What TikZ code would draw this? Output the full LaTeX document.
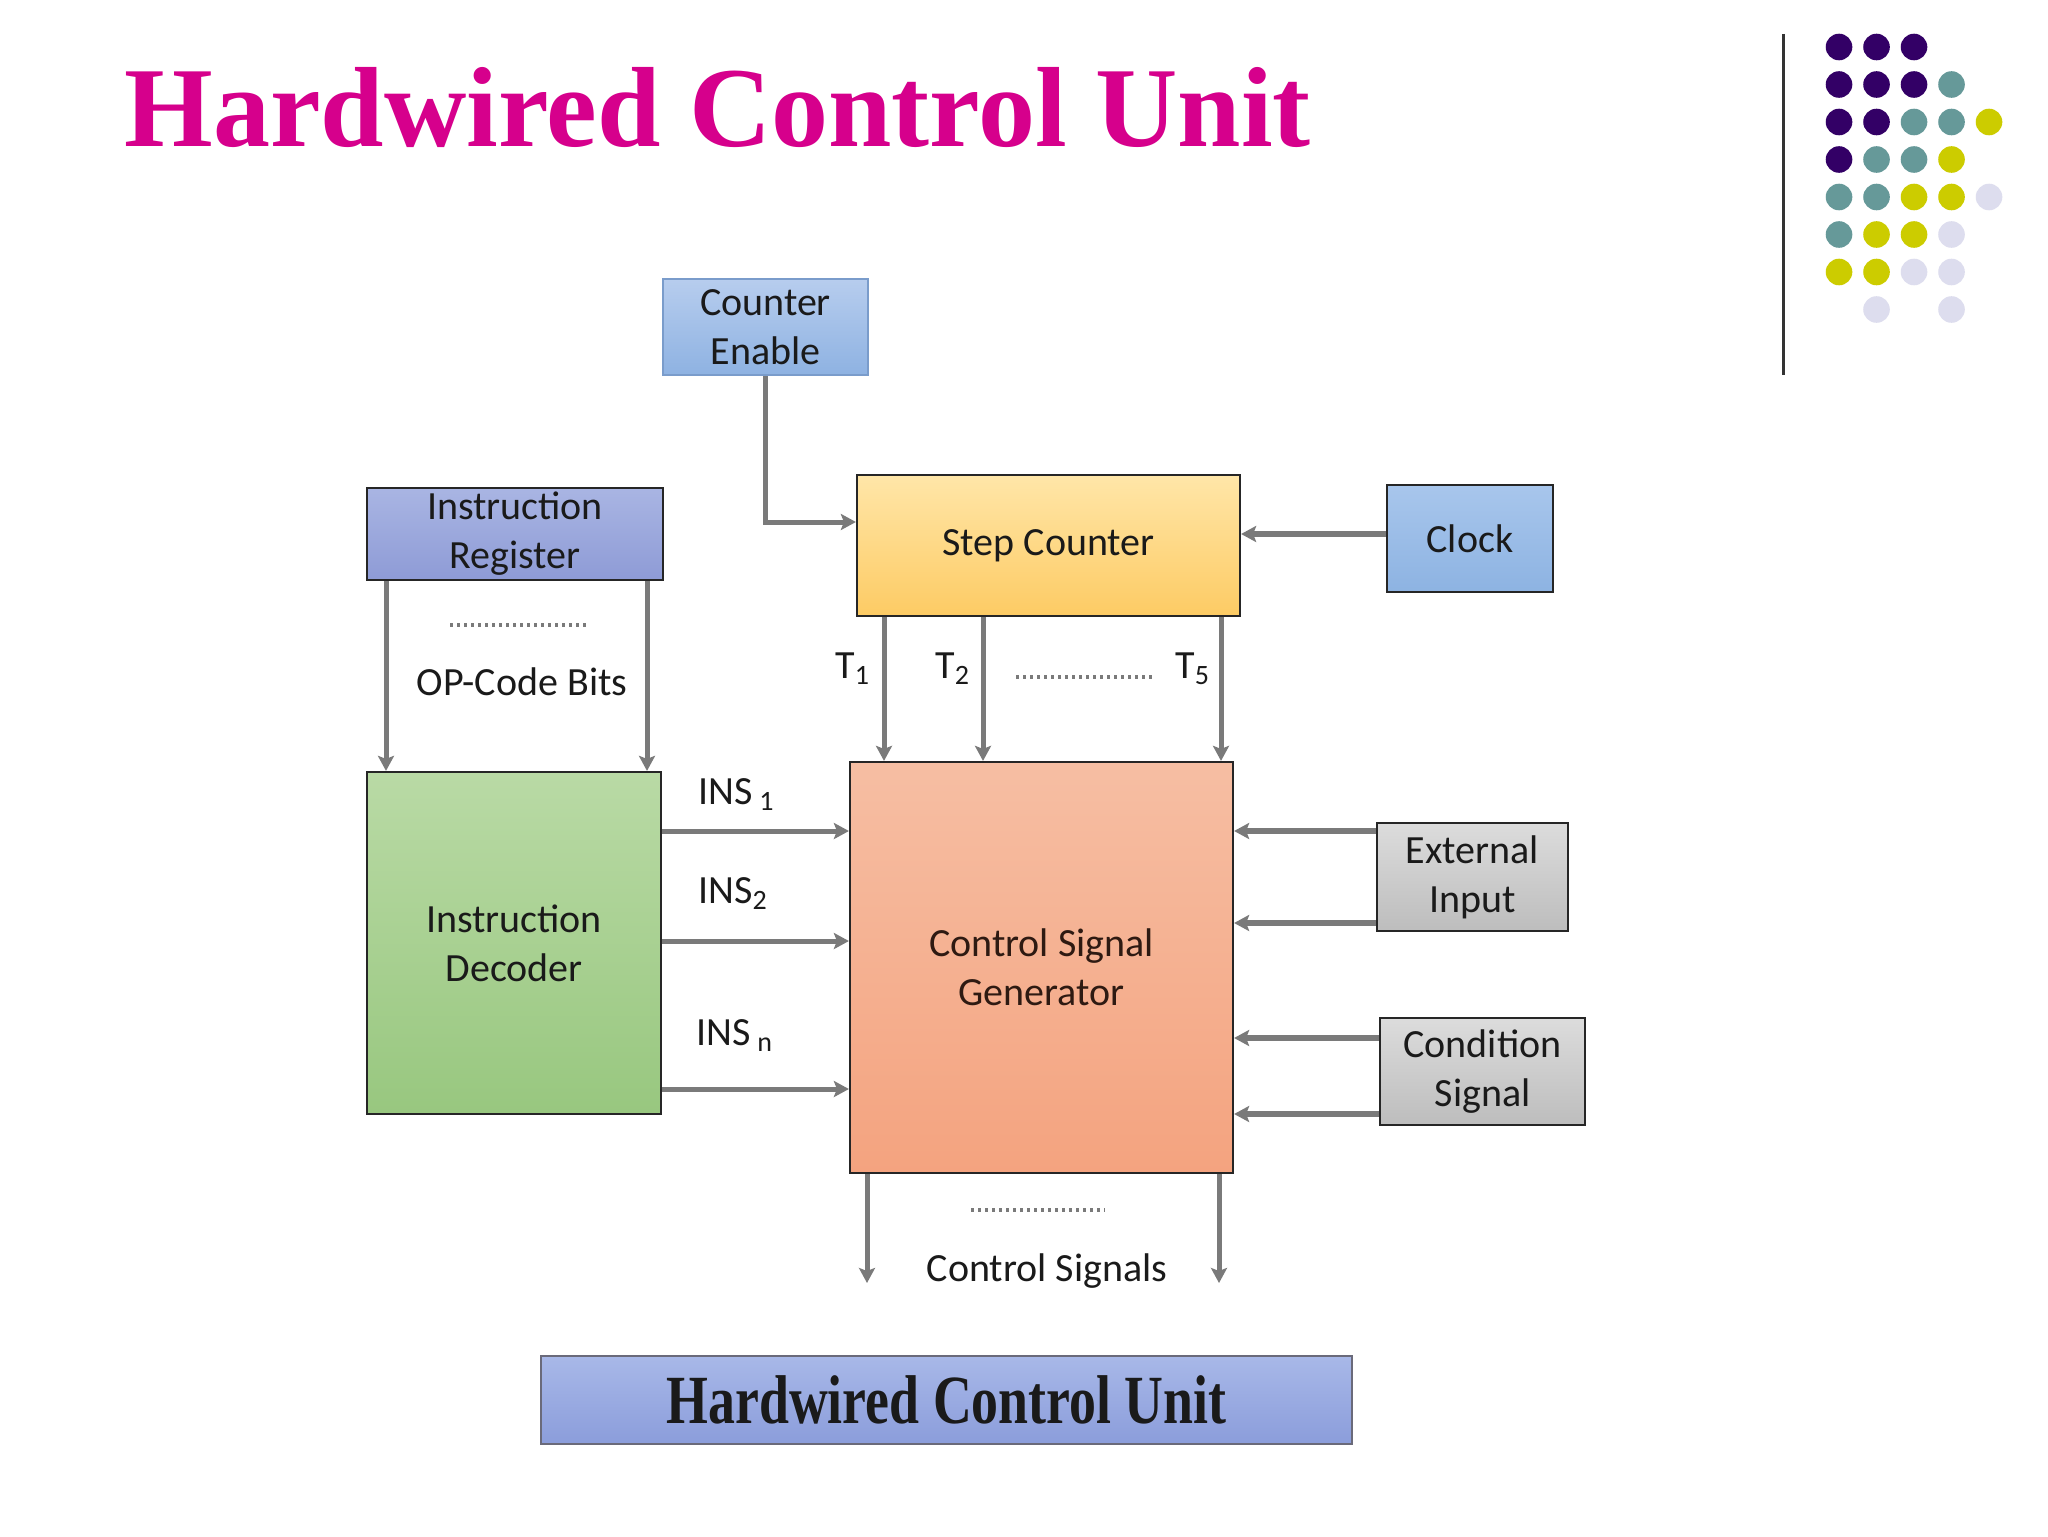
\documentclass[tikz,border=0pt]{standalone}
\usepackage{fontspec}
\setmainfont{Carlito}
\newfontfamily\serifbold{Liberation Serif}[BoldFont={Liberation Serif Bold}]
\usetikzlibrary{arrows.meta}
\definecolor{titlepink}{HTML}{D6008C}
\definecolor{wirec}{HTML}{7A7A7A}
\definecolor{boxline}{HTML}{262626}
\definecolor{textc}{HTML}{1A1A1A}
\definecolor{dotP}{HTML}{330066}
\definecolor{dotT}{HTML}{669999}
\definecolor{dotY}{HTML}{CCCC00}
\definecolor{dotL}{HTML}{DDDDEE}
\definecolor{ceLine}{HTML}{7A9CCB}
\definecolor{ceTop}{HTML}{B7CDEE}
\definecolor{ceBot}{HTML}{8EB2E2}
\definecolor{scTop}{HTML}{FFE6A8}
\definecolor{scBot}{HTML}{FDCB64}
\definecolor{clkTop}{HTML}{A8C6EC}
\definecolor{clkBot}{HTML}{8DB3E2}
\definecolor{irTop}{HTML}{A9B5E3}
\definecolor{irBot}{HTML}{8E9BD6}
\definecolor{idTop}{HTML}{B9DAA5}
\definecolor{idBot}{HTML}{98C77F}
\definecolor{csgTop}{HTML}{F6BEA3}
\definecolor{csgBot}{HTML}{F4A37F}
\definecolor{csgText}{HTML}{2E1A12}
\definecolor{grayTop}{HTML}{DCDCDC}
\definecolor{grayBot}{HTML}{BDBDBD}
\definecolor{banTop}{HTML}{A8B8E8}
\definecolor{banBot}{HTML}{8B9DDB}
\definecolor{banLine}{HTML}{6A6A7A}
\definecolor{sepLine}{HTML}{333333}
\tikzset{
  box/.style={draw=boxline, line width=1.1pt, inner sep=0pt, align=center,
    font=\fontsize{20}{24.5}\selectfont, text=textc},
  cebox/.style={box, draw=ceLine, top color=ceTop, bottom color=ceBot},
  scbox/.style={box, top color=scTop, bottom color=scBot},
  clkbox/.style={box, top color=clkTop, bottom color=clkBot},
  irbox/.style={box, top color=irTop, bottom color=irBot},
  idbox/.style={box, top color=idTop, bottom color=idBot},
  csgbox/.style={box, top color=csgTop, bottom color=csgBot, text=csgText},
  graybox/.style={box, top color=grayTop, bottom color=grayBot},
  wire/.style={draw=wirec, line width=2.5pt, -{Stealth[length=7.5pt,width=8pt,inset=1.5pt]}},
  thickwire/.style={wire, line width=3pt},
  lbl/.style={inner sep=0pt, font=\fontsize{20}{24}\selectfont, text=textc},
  dotline/.style={draw=wirec, line width=1.8pt, dash pattern=on 1.4pt off 2.1pt},
}
\begin{document}
\begin{tikzpicture}[x=0.5pt,y=-0.5pt]
\useasboundingbox[fill=white] (0,0) rectangle (2048,1536);

% title
\node[anchor=base west, inner sep=0pt, text=titlepink, font=\serifbold\bfseries\fontsize{57}{60}\selectfont] (title) at (124,147) {Hardwired Control Unit};

% separator and dots
\draw[draw=sepLine, line width=1.5pt] (1783,34) -- (1783,375);
\foreach \r/\c/\col in {0/0/dotP,0/1/dotP,0/2/dotP,
  1/0/dotP,1/1/dotP,1/2/dotP,1/3/dotT,
  2/0/dotP,2/1/dotP,2/2/dotT,2/3/dotT,2/4/dotY,
  3/0/dotP,3/1/dotT,3/2/dotT,3/3/dotY,
  4/0/dotT,4/1/dotT,4/2/dotY,4/3/dotY,4/4/dotL,
  5/0/dotT,5/1/dotY,5/2/dotY,5/3/dotL,
  6/0/dotY,6/1/dotY,6/2/dotL,6/3/dotL,
  7/1/dotL,7/3/dotL}
  \fill[\col] ({1839+37.5*\c},{47+37.5*\r}) circle[radius=6.65pt];

% boxes
\node[cebox, minimum width=102.5pt, minimum height=48pt] (ce) at (765.5,327) {Counter\\Enable};
\node[scbox, minimum width=191.5pt, minimum height=70.5pt] (sc) at (1048.5,545.5) {Step Counter};
\node[clkbox, minimum width=83pt, minimum height=53.5pt] (clk) at (1470,538.5) {Clock};
\node[irbox, minimum width=148pt, minimum height=46pt] (ir) at (515,534) {Instruction\\Register};
\node[idbox, minimum width=147pt, minimum height=171pt] (id) at (514,943) {Instruction\\Decoder};
\node[csgbox, minimum width=191.5pt, minimum height=205.5pt] (csg) at (1041.5,967.5) {Control Signal\\Generator};
\node[graybox, minimum width=95.5pt, minimum height=54pt] (ext) at (1472.5,877) {External\\Input};
\node[graybox, minimum width=102.5pt, minimum height=53.5pt] (cond) at (1482.5,1071.5) {Condition\\Signal};
\node[draw=banLine, line width=0.9pt, top color=banTop, bottom color=banBot,
  minimum width=405.5pt, minimum height=44pt, inner sep=0pt, text=textc,
  font=\serifbold\bfseries\fontsize{34.5}{36}\selectfont] (hcu) at (946.5,1400)
  {\scalebox{0.78}[1]{Hardwired Control Unit}};

% connectors
\draw[wire] (ce.south) |- (sc.west |- 0,522);
\draw[thickwire] (clk.west |- 0,534) -- (sc.east |- 0,534);
\foreach \x in {386,647} \draw[wire] (ir.south -| \x,0) -- (id.north -| \x,0);
\foreach \x in {884,983,1221} \draw[wire] (sc.south -| \x,0) -- (csg.north -| \x,0);
\foreach \y in {831,941,1089} \draw[wire] (id.east |- 0,\y) -- (csg.west |- 0,\y);
\foreach \y in {831,923} \draw[thickwire] (ext.west |- 0,\y) -- (csg.east |- 0,\y);
\foreach \y in {1038,1114} \draw[thickwire] (cond.west |- 0,\y) -- (csg.east |- 0,\y);
\coordinate (o1) at (867,1283);
\coordinate (o2) at (1219,1283);
\draw[wire] (csg.south -| o1) -- (o1);
\draw[wire] (csg.south -| o2) -- (o2);

% labels
\draw[dotline] (450,625) -- (588,625);
\node[lbl, anchor=base] (opc) at (522,695) {OP-Code Bits};
\node[lbl, anchor=base west] (t1) at (835,678) {T\textsubscript{1}};
\node[lbl, anchor=base west] (t2) at (935,678) {T\textsubscript{2}};
\node[lbl, anchor=base west] (t5) at (1175,678) {T\textsubscript{5}};
\draw[dotline] (1016,677) -- (1154,677);
\node[lbl, anchor=base west] (ins1) at (698,804) {INS\,\textsubscript{1}};
\node[lbl, anchor=base west] (ins2) at (698,903) {INS\textsubscript{2}};
\node[lbl, anchor=base west] (insn) at (696,1045) {INS\,\textsubscript{n}};
\draw[dotline] (971,1210) -- (1105,1210);
\node[lbl, anchor=base] (cs) at (1047,1281) {Control Signals};
\end{tikzpicture}
\end{document}
